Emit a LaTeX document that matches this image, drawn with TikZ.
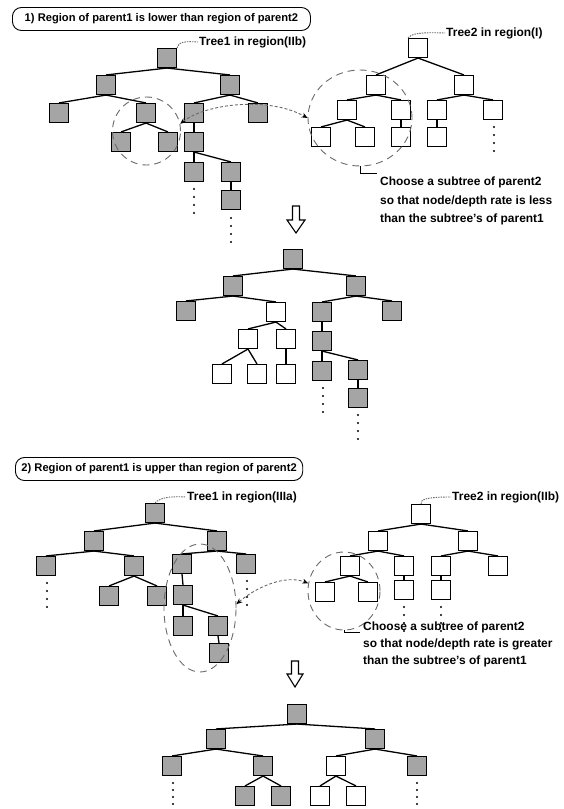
\documentclass[tikz,border=0pt]{standalone}
\usepackage{fontspec}
\setmainfont{Liberation Sans}
\usetikzlibrary{shapes.geometric,arrows.meta}
\definecolor{boxgray}{RGB}{165,165,165}
\definecolor{linegray}{RGB}{105,105,105}
\begin{document}
\begin{tikzpicture}[x=1bp,y=-1bp,
  gbox/.style={draw, line width=1.1bp, fill=boxgray, minimum size=19bp, inner sep=0pt},
  wbox/.style={draw, line width=1.1bp, fill=white, minimum size=19bp, inner sep=0pt},
  edge/.style={line width=1.3bp},
  treedot/.style={fill=black},
  region/.style={ellipse, draw=linegray, line width=0.9bp, dash pattern=on 7bp off 5bp, inner sep=0pt},
  swap/.style={draw=linegray, line width=0.9bp, dash pattern=on 3bp off 2bp, {Stealth[length=6bp,width=5bp,black]}-{Stealth[length=6bp,width=5bp,black]}},
  callout/.style={draw=linegray, line width=0.9bp, dash pattern=on 1.5bp off 1bp},
  lbl/.style={font=\fontsize{12}{14}\selectfont\bfseries, inner sep=1bp, anchor=west},
  note/.style={font=\fontsize{12}{18.5}\selectfont\bfseries, align=left, inner sep=0pt, anchor=west},
  titlebox/.style={draw, line width=0.9bp, rounded corners=9bp, font=\fontsize{11.2}{13}\selectfont\bfseries, inner xsep=6bp, anchor=west, minimum height=23bp},
  downarrow/.style={draw, line width=1.1bp, fill=white, line join=miter}
]
\useasboundingbox (0,0) rectangle (564,809);

% ---------- Section 1 ----------
\node[titlebox, minimum width=298bp] (t1) at (12,19) {1) Region of parent1 is lower than region of parent2};

% Tree1 (gray)
\node[gbox] (a0) at (167,58) {};
\node[gbox] (a1) at (106,85) {};
\node[gbox] (a2) at (230,85) {};
\node[gbox] (a3) at (59,113) {};
\node[gbox] (a4) at (146,113) {};
\node[gbox] (a5) at (194,113) {};
\node[gbox] (a6) at (258,113) {};
\node[gbox] (a7) at (121,142) {};
\node[gbox] (a8) at (168,142) {};
\node[gbox] (a9) at (194,142) {};
\node[gbox] (a10) at (194,172) {};
\node[gbox] (a11) at (231,172) {};
\node[gbox] (a12) at (231,200) {};
\draw[edge] (a0.south) -- (a1.north);
\draw[edge] (a0.south) -- (a2.north);
\draw[edge] (a1.south) -- (a3.north);
\draw[edge] (a1.south) -- (a4.north);
\draw[edge] (a2.south) -- (a5.north);
\draw[edge] (a2.south) -- (a6.north);
\draw[edge] (a4.south) -- (a7.north);
\draw[edge] (a4.south) -- (a8.north);
\draw[edge] (a5.south) -- (a9.north);
\draw[edge] (a9.south) -- (a10.north);
\draw[edge] (a9.south) -- (a11.north);
\draw[edge] (a11.south) -- (a12.north);
\foreach \yy in {189,197,205,213} \fill[treedot] (194,\yy) circle (1.1bp);
\foreach \yy in {218,226,234,242} \fill[treedot] (231,\yy) circle (1.1bp);
\node[lbl] (tl1) at (198,42) {Tree1 in region(IIb)};
\draw[callout] (a0.north east) .. controls (178,42) and (185,41) .. (tl1.west);

% Tree2 (white)
\node[wbox] (b0) at (418,48) {};
\node[wbox] (b1) at (376,85) {};
\node[wbox] (b2) at (464,85) {};
\node[wbox] (b3) at (347,110) {};
\node[wbox] (b4) at (401,110) {};
\node[wbox] (b5) at (437,110) {};
\node[wbox] (b6) at (493,110) {};
\node[wbox] (b7) at (321,137) {};
\node[wbox] (b8) at (365,137) {};
\node[wbox] (b9) at (401,137) {};
\node[wbox] (b10) at (437,137) {};
\draw[edge] (b0.south) -- (b1.north);
\draw[edge] (b0.south) -- (b2.north);
\draw[edge] (b1.south) -- (b3.north);
\draw[edge] (b1.south) -- (b4.north);
\draw[edge] (b2.south) -- (b5.north);
\draw[edge] (b2.south) -- (b6.north);
\draw[edge] (b3.south) -- (b7.north);
\draw[edge] (b3.south) -- (b8.north);
\draw[edge, line width=2bp] (b4.south) -- (b9.north);
\draw[edge] (b5.south) -- (b10.north);
\foreach \yy in {127,135,143,151} \fill[treedot] (494,\yy) circle (1.1bp);
\node[lbl] (tl2) at (445,33) {Tree2 in region(I)};
\draw[callout] (b0.north west) .. controls (411,34) and (418,32) .. (tl2.west);

% regions and swap arrow
\node[region, minimum width=68bp, minimum height=68bp] (ra) at (146.5,131) {};
\node[region, minimum width=104bp, minimum height=96bp] (rb) at (360,118) {};
\draw[swap] (ra.12) .. controls (205,104) and (268,96) .. (rb.180);

% note
\node[note] (n1) at (380,201) {Choose a subtree of parent2\\so that node/depth rate is less\\than the subtree's of parent1};
\coordinate (n1c) at (377,173);
\draw[line width=0.7bp] (rb.south) -- (rb.south |- n1c) -- (n1c);

% down arrow
\draw[downarrow] (292.5,206) -- (299.5,206) -- (299.5,220) -- (305,220) -- (296,233) -- (287,220) -- (292.5,220) -- cycle;

% Result tree 1
\node[gbox] (c0) at (293,259) {};
\node[gbox] (c1) at (233,286) {};
\node[gbox] (c2) at (356,286) {};
\node[gbox] (c3) at (186,311) {};
\node[wbox] (c4) at (276,312) {};
\node[gbox] (c5) at (322,312) {};
\node[gbox] (c6) at (392,311) {};
\node[wbox] (c7) at (248,339) {};
\node[wbox] (c8) at (286,339) {};
\node[gbox] (c9) at (322,341) {};
\node[wbox] (c10) at (222,374) {};
\node[wbox] (c11) at (257,374) {};
\node[wbox] (c12) at (286,374) {};
\node[gbox] (c13) at (322,371) {};
\node[gbox] (c14) at (358,370) {};
\node[gbox] (c15) at (358,398) {};
\draw[edge] (c0.south) -- (c1.north);
\draw[edge] (c0.south) -- (c2.north);
\draw[edge] (c1.south) -- (c3.north);
\draw[edge] (c1.south) -- (c4.north);
\draw[edge] (c2.south) -- (c5.north);
\draw[edge] (c2.south) -- (c6.north);
\draw[edge] (c4.south) -- (c7.north);
\draw[edge] (c4.south) -- (c8.north);
\draw[edge] (c7.south) -- (c10.north);
\draw[edge] (c7.south) -- (c11.north);
\draw[edge] (c8.south) -- (c12.north);
\draw[edge] (c5.south) -- (c9.north);
\draw[edge] (c9.south) -- (c13.north);
\draw[edge] (c9.south) -- (c14.north);
\draw[edge] (c14.south) -- (c15.north);
\foreach \yy in {388,396,404,412} \fill[treedot] (323,\yy) circle (1.1bp);
\foreach \yy in {415,423,431,439} \fill[treedot] (358,\yy) circle (1.1bp);

% ---------- Section 2 ----------
\node[titlebox, minimum width=278bp] (t2) at (15,469) {2) Region of parent1 is upper than region of parent2};

% Tree1 (gray)
\node[gbox] (d0) at (155,513) {};
\node[gbox] (d1) at (94,541) {};
\node[gbox] (d2) at (217,541) {};
\node[gbox] (d3) at (46,566) {};
\node[gbox] (d4) at (134,566) {};
\node[gbox] (d5) at (182,564) {};
\node[gbox] (d6) at (246,564) {};
\node[gbox] (d7) at (109,596) {};
\node[gbox] (d8) at (157,596) {};
\node[gbox] (d9) at (183,595) {};
\node[gbox] (d10) at (183,626) {};
\node[gbox] (d11) at (218,626) {};
\node[gbox] (d12) at (219,653) {};
\draw[edge] (d0.south) -- (d1.north);
\draw[edge] (d0.south) -- (d2.north);
\draw[edge] (d1.south) -- (d3.north);
\draw[edge] (d1.south) -- (d4.north);
\draw[edge] (d2.south) -- (d5.north);
\draw[edge] (d2.south) -- (d6.north);
\draw[edge] (d4.south) -- (d7.north);
\draw[edge] (d4.south) -- (d8.north);
\draw[edge] (d5.south) -- (d9.north);
\draw[edge] (d9.south) -- (d10.north);
\draw[edge] (d9.south) -- (d11.north);
\draw[edge] (d11.south) -- (d12.north);
\foreach \yy in {583,591,599,607} \fill[treedot] (47,\yy) circle (1.1bp);
\foreach \yy in {581,589,597,605} \fill[treedot] (247,\yy) circle (1.1bp);
\node[lbl] (tl3) at (186,497) {Tree1 in region(IIIa)};
\draw[callout] (d0.north) .. controls (160,498) and (168,496) .. (tl3.west);

% Tree2 (white)
\node[wbox] (e0) at (421,514) {};
\node[wbox] (e1) at (378,541) {};
\node[wbox] (e2) at (468,541) {};
\node[wbox] (e3) at (350,566) {};
\node[wbox] (e4) at (404,566) {};
\node[wbox] (e5) at (441,566) {};
\node[wbox] (e6) at (498,566) {};
\node[wbox] (e7) at (325,592) {};
\node[wbox] (e8) at (368,592) {};
\node[wbox] (e9) at (404,590) {};
\node[wbox] (e10) at (441,590) {};
\draw[edge] (e0.south) -- (e1.north);
\draw[edge] (e0.south) -- (e2.north);
\draw[edge] (e1.south) -- (e3.north);
\draw[edge] (e1.south) -- (e4.north);
\draw[edge] (e2.south) -- (e5.north);
\draw[edge] (e2.south) -- (e6.north);
\draw[edge] (e3.south) -- (e7.north);
\draw[edge] (e3.south) -- (e8.north);
\draw[edge] (e4.south) -- (e9.north);
\draw[edge] (e5.south) -- (e10.north);
\foreach \yy in {607,615,623,631} \fill[treedot] (404,\yy) circle (1.1bp);
\foreach \yy in {607,615,623,631} \fill[treedot] (441,\yy) circle (1.1bp);
\node[lbl] (tl4) at (451,497) {Tree2 in region(IIb)};
\draw[callout] (e0.north) .. controls (420,499) and (428,497) .. (tl4.west);

% regions and swap arrow
\node[region, minimum width=72bp, minimum height=128bp] (rd) at (200,608) {};
\node[region, minimum width=72bp, minimum height=78bp] (re) at (344,591) {};
\draw[swap] (rd.6) .. controls (255,588) and (285,574) .. (re.168);

% note
\node[note, font=\fontsize{12}{17}\selectfont\bfseries] (n2) at (363,644) {Choose a subtree of parent2\\so that node/depth rate is greater\\than the subtree's of parent1};
\coordinate (n2c) at (360,632);
\draw[line width=0.7bp] (re.south) -- (re.south |- n2c) -- (n2c);

% down arrow
\draw[downarrow] (291.5,661) -- (298.5,661) -- (298.5,674) -- (303,674) -- (295,687) -- (287,674) -- (291.5,674) -- cycle;

% Result tree 2
\node[gbox] (f0) at (297,714) {};
\node[gbox] (f1) at (216,739) {};
\node[gbox] (f2) at (375,739) {};
\node[gbox] (f3) at (172,766) {};
\node[gbox] (f4) at (263,766) {};
\node[wbox] (f5) at (336,766) {};
\node[gbox] (f6) at (417,766) {};
\node[gbox] (f7) at (245,796) {};
\node[gbox] (f8) at (281,796) {};
\node[wbox] (f9) at (320,796) {};
\node[wbox] (f10) at (356,796) {};
\draw[edge] (f0.south) -- (f1.north);
\draw[edge] (f0.south) -- (f2.north);
\draw[edge] (f1.south) -- (f3.north);
\draw[edge] (f1.south) -- (f4.north);
\draw[edge] (f2.south) -- (f5.north);
\draw[edge] (f2.south) -- (f6.north);
\draw[edge] (f4.south) -- (f7.north);
\draw[edge] (f4.south) -- (f8.north);
\draw[edge] (f5.south) -- (f9.north);
\draw[edge] (f5.south) -- (f10.north);
\foreach \yy in {783,790,797,804} \fill[treedot] (173,\yy) circle (1.1bp);
\foreach \yy in {783,790,797,804} \fill[treedot] (417,\yy) circle (1.1bp);
\end{tikzpicture}
\end{document}
